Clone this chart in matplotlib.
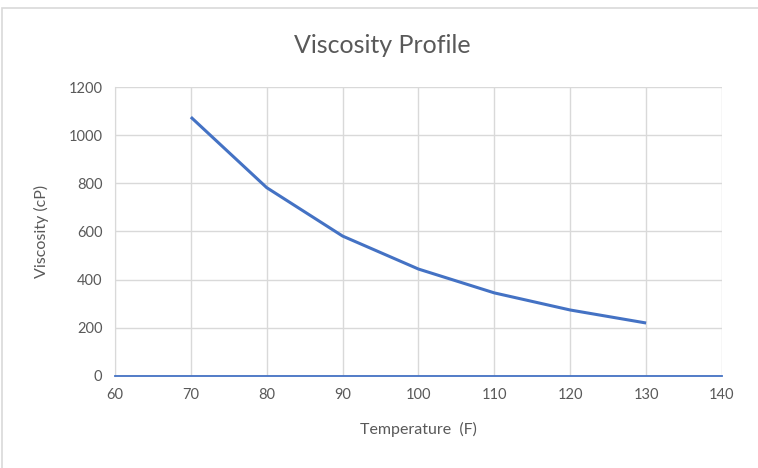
import matplotlib
matplotlib.use('Agg')
import matplotlib.pyplot as plt
from matplotlib.patches import Rectangle

temperature = [70, 80, 90, 100, 110, 120, 130]
viscosity = [1075, 782, 581, 444, 345, 274, 220]
x_ticks = [60, 70, 80, 90, 100, 110, 120, 130, 140]
y_ticks = [0, 200, 400, 600, 800, 1000, 1200]

plt.rcParams['font.family'] = ['Lato', 'DejaVu Sans']

fig = plt.figure(figsize=(7.58, 4.68), dpi=100)
# chart frame: only top and left edges show in the reference
fig.patches.append(Rectangle((0.002, -0.05), 1.1, 1.033, transform=fig.transFigure,
                             fill=False, edgecolor='#d9d9d9', linewidth=1.2))
ax = fig.add_axes([0.1517, 0.1966, 0.8008, 0.6175])

ax.plot(temperature, viscosity, color='#4472C4', linewidth=2.2, solid_capstyle='butt', zorder=3)

ax.set_xlim(60, 140)
ax.set_ylim(0, 1200)
ax.set_xticks(x_ticks)
ax.set_yticks(y_ticks)
ax.grid(True, color='#d9d9d9', linewidth=1)
ax.set_axisbelow(True)
for side in ['top', 'right']:
    ax.spines[side].set_visible(False)
ax.spines['left'].set_color('#d9d9d9')
ax.spines['bottom'].set_color('#4472C4')
ax.spines['bottom'].set_linewidth(1.3)
ax.tick_params(length=0, colors='#595959', labelsize=10.5, pad=9)

fig.text(0.505, 0.903, 'Viscosity Profile', fontsize=18, color='#595959',
         ha='center', va='center')
ax.set_xlabel('Temperature  (F)', fontsize=11.5, color='#595959', labelpad=14)
ax.set_ylabel('Viscosity (cP)', fontsize=11.5, color='#595959', labelpad=14)

fig.savefig('out.png', dpi=100)
